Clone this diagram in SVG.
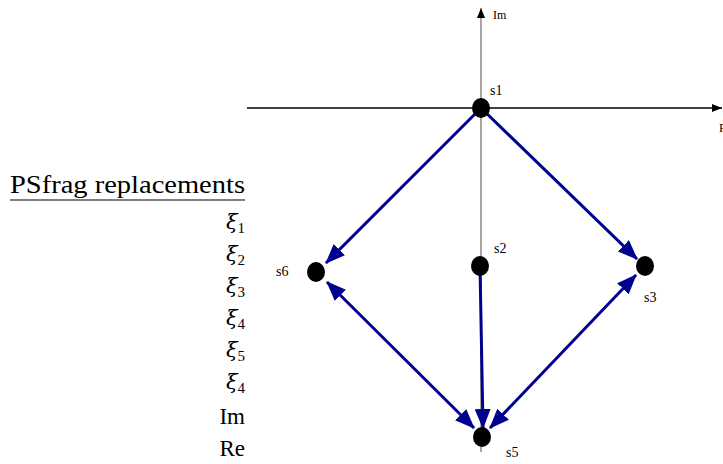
<svg xmlns="http://www.w3.org/2000/svg" width="723" height="464" viewBox="0 0 723 464">
<style>
.lbl{font-family:"Liberation Serif","DejaVu Serif",serif;fill:#000}
.small{font-size:14px}
.big{font-size:23px}
.xi{font-family:"DejaVu Serif",serif;font-style:italic;font-size:21px}
.sub{font-size:15px}
.edge{stroke:#00008f;stroke-width:3;fill:none}
.node{fill:#000}
</style>
<defs>
<marker id="ah" markerUnits="userSpaceOnUse" viewBox="0 0 20 16" refX="19" refY="8" markerWidth="20" markerHeight="16" orient="auto-start-reverse">
<path d="M0,0 L20,8 L0,16 Z" fill="#00008f"/>
</marker>
<marker id="ax" markerUnits="userSpaceOnUse" viewBox="0 0 10 8" refX="10" refY="4" markerWidth="10" markerHeight="8" orient="auto">
<path d="M0,0 L10,4 L0,8 Z" fill="#000"/>
</marker>
</defs>
<g id="legend">
<text class="lbl" font-size="25" x="10" y="193" textLength="235" lengthAdjust="spacingAndGlyphs">PSfrag replacements</text>
<line x1="10" y1="200" x2="245" y2="200" stroke="#000" stroke-width="1.2"/>
<text class="lbl" x="245" y="229" text-anchor="end"><tspan class="xi">ξ</tspan><tspan class="sub" dy="4">1</tspan></text>
<text class="lbl" x="245" y="261" text-anchor="end"><tspan class="xi">ξ</tspan><tspan class="sub" dy="4">2</tspan></text>
<text class="lbl" x="245" y="293" text-anchor="end"><tspan class="xi">ξ</tspan><tspan class="sub" dy="4">3</tspan></text>
<text class="lbl" x="245" y="325" text-anchor="end"><tspan class="xi">ξ</tspan><tspan class="sub" dy="4">4</tspan></text>
<text class="lbl" x="245" y="357" text-anchor="end"><tspan class="xi">ξ</tspan><tspan class="sub" dy="4">5</tspan></text>
<text class="lbl" x="245" y="389" text-anchor="end"><tspan class="xi">ξ</tspan><tspan class="sub" dy="4">4</tspan></text>
<text class="lbl big" x="245" y="424" text-anchor="end">Im</text>
<text class="lbl big" x="245" y="456" text-anchor="end">Re</text>
</g>
<g id="axes">
<line x1="481" y1="452" x2="481" y2="8" stroke="#777" stroke-width="1.3" marker-end="url(#ax)"/>
<line x1="247" y1="108" x2="722" y2="108" stroke="#000" stroke-width="1.3" marker-end="url(#ax)"/>
<text class="lbl" font-size="12" x="493" y="19">Im</text>
<text class="lbl" font-size="12" x="719" y="132">Re</text>
</g>
<g id="connectors">
<line class="edge" x1="481" y1="108" x2="326" y2="263" marker-end="url(#ah)"/>
<line class="edge" x1="481" y1="108" x2="637" y2="259" marker-end="url(#ah)"/>
<line class="edge" x1="480" y1="266" x2="483" y2="428" marker-end="url(#ah)"/>
<line class="edge" x1="327" y1="282" x2="474" y2="428" marker-start="url(#ah)" marker-end="url(#ah)"/>
<line class="edge" x1="490" y1="428" x2="636" y2="275" marker-start="url(#ah)" marker-end="url(#ah)"/>
</g>
<g id="s1"><ellipse class="node" cx="481" cy="108" rx="9" ry="10"/><text class="lbl small" x="490" y="95">s1</text></g>
<g id="s2"><ellipse class="node" cx="480" cy="266" rx="9" ry="10"/><text class="lbl small" x="494" y="253">s2</text></g>
<g id="s3"><ellipse class="node" cx="645" cy="266" rx="9" ry="10"/><text class="lbl small" x="644" y="302">s3</text></g>
<g id="s6"><ellipse class="node" cx="316" cy="272" rx="9" ry="10"/><text class="lbl small" x="276" y="276">s6</text></g>
<g id="s5"><ellipse class="node" cx="482" cy="437" rx="9" ry="10"/><text class="lbl small" x="506" y="457">s5</text></g>
</svg>
